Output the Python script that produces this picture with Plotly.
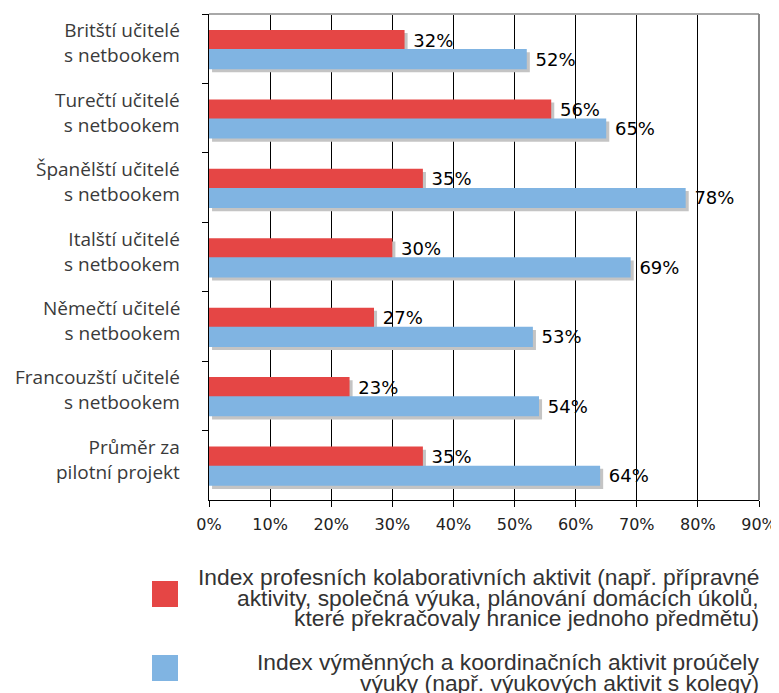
import plotly.graph_objects as go

categories = [
    "Britští učitelé<br>s netbookem",
    "Turečtí učitelé<br>s netbookem",
    "Španělští učitelé<br>s netbookem",
    "Italští učitelé<br>s netbookem",
    "Němečtí učitelé<br>s netbookem",
    "Francouzští učitelé<br>s netbookem",
    "Průměr za<br>pilotní projekt",
]
collab_index = [32, 56, 35, 30, 27, 23, 35]
exchange_index = [52, 65, 78, 69, 53, 54, 64]
x_ticks = [0, 10, 20, 30, 40, 50, 60, 70, 80, 90]

legend_collab = [
    "Index profesních kolaborativních aktivit (např. přípravné",
    "aktivity, společná výuka, plánování domácích úkolů,",
    "které překračovaly hranice jednoho předmětu)",
]
legend_exchange = [
    "Index výměnných a koordinačních aktivit proúčely",
    "výuky (např. výukových aktivit s kolegy)",
]

RED = "#E54645"
BLUE = "#80B4E2"
SHADOW = "#C4C4C4"

# page body has an 8px default margin: figure is placed at (8, 8)
OFF = 8
WIN_W, WIN_H = 779, 693
W, H = WIN_W - OFF, WIN_H - OFF
# plot area in window pixels: x 209..759, y 14..500
PL, PR, PT, PB = 209, 759, 14, 500
L, T = PL - OFF, PT - OFF
R, B = W - (PR - OFF), H - (PB - OFF)
PW, PH = PR - PL, PB - PT

def px_x(px):
    return (px - PL) / PW

def px_y(py):
    return (PB - py) / PH

fig = go.Figure()

# shadows (offset a few pixels right/down)
sx = 0.5
sy = 0.045
for vals, off in [(collab_index, -0.27), (exchange_index, 0.005)]:
    fig.add_trace(go.Bar(
        y=categories, x=vals, base=sx, orientation="h",
        offset=off + sy, width=0.29, marker=dict(color=SHADOW, line=dict(width=0)),
        hoverinfo="skip", showlegend=False,
    ))

for vals, off, col in [(collab_index, -0.27, RED), (exchange_index, 0.005, BLUE)]:
    fig.add_trace(go.Bar(
        y=categories, x=vals, orientation="h",
        offset=off, width=0.29, marker=dict(color=col, line=dict(width=0)),
        text=[f" {v}%" for v in vals], textposition="outside",
        constraintext="none", cliponaxis=False,
        textfont=dict(family="DejaVu Sans", size=18, color="#000000"),
        showlegend=False,
    ))

fig.update_layout(
    width=W, height=H,
    margin=dict(l=L, r=R, t=T, b=B, autoexpand=False),
    barmode="overlay",
    plot_bgcolor="white", paper_bgcolor="white",
    showlegend=False,
)

fig.update_xaxes(
    range=[0, 90], tickvals=x_ticks, ticktext=[f"{v}%" for v in x_ticks],
    automargin=False,
    showgrid=True, gridcolor="#000000", gridwidth=1,
    zeroline=False, showline=True, linecolor="#000000", linewidth=1,
    ticks="outside", ticklen=6, tickcolor="#000000",
    ticklabelstandoff=4,
    tickfont=dict(family="DejaVu Sans", size=16, color="#222222"),
)
fig.update_yaxes(
    type="category", categoryorder="array", categoryarray=categories,
    autorange="reversed", tickson="boundaries", automargin=False,
    showgrid=False, zeroline=False, showticklabels=False,
    showline=True, linecolor="#000000", linewidth=1,
    ticks="outside", ticklen=6, tickcolor="#000000",
)

# category labels (placed slightly above category centres, as in the original)
for cat in categories:
    fig.add_annotation(
        text=cat, xref="paper", yref="y", x=px_x(182), y=cat,
        xanchor="right", yanchor="middle", align="right", yshift=6,
        showarrow=False,
        font=dict(family="Open Sans", size=19, color="#3a3a3a"),
    )

# top & right border
fig.add_shape(type="line", xref="paper", yref="paper", x0=0, x1=1, y0=1, y1=1,
              line=dict(color="#A8A8A8", width=2))
fig.add_shape(type="line", xref="paper", yref="paper", x0=1, x1=1, y0=0, y1=1,
              line=dict(color="#888888", width=2))

# custom legend
def legend_block(lines, color, top_py, square_top):
    fig.add_shape(type="rect", xref="paper", yref="paper",
                  x0=px_x(152), x1=px_x(178), y0=px_y(square_top + 26), y1=px_y(square_top),
                  fillcolor=color, line=dict(width=0))
    for i, line in enumerate(lines):
        fig.add_annotation(
            text=line, xref="paper", yref="paper",
            x=px_x(761), y=px_y(top_py + i * 20.5),
            xanchor="right", yanchor="middle", showarrow=False,
            font=dict(family="Liberation Sans", size=22.8, color="#333333"),
        )

legend_block(legend_collab, RED, 577, 581)
legend_block(legend_exchange, BLUE, 662, 655)

fig.write_html("out.html")
